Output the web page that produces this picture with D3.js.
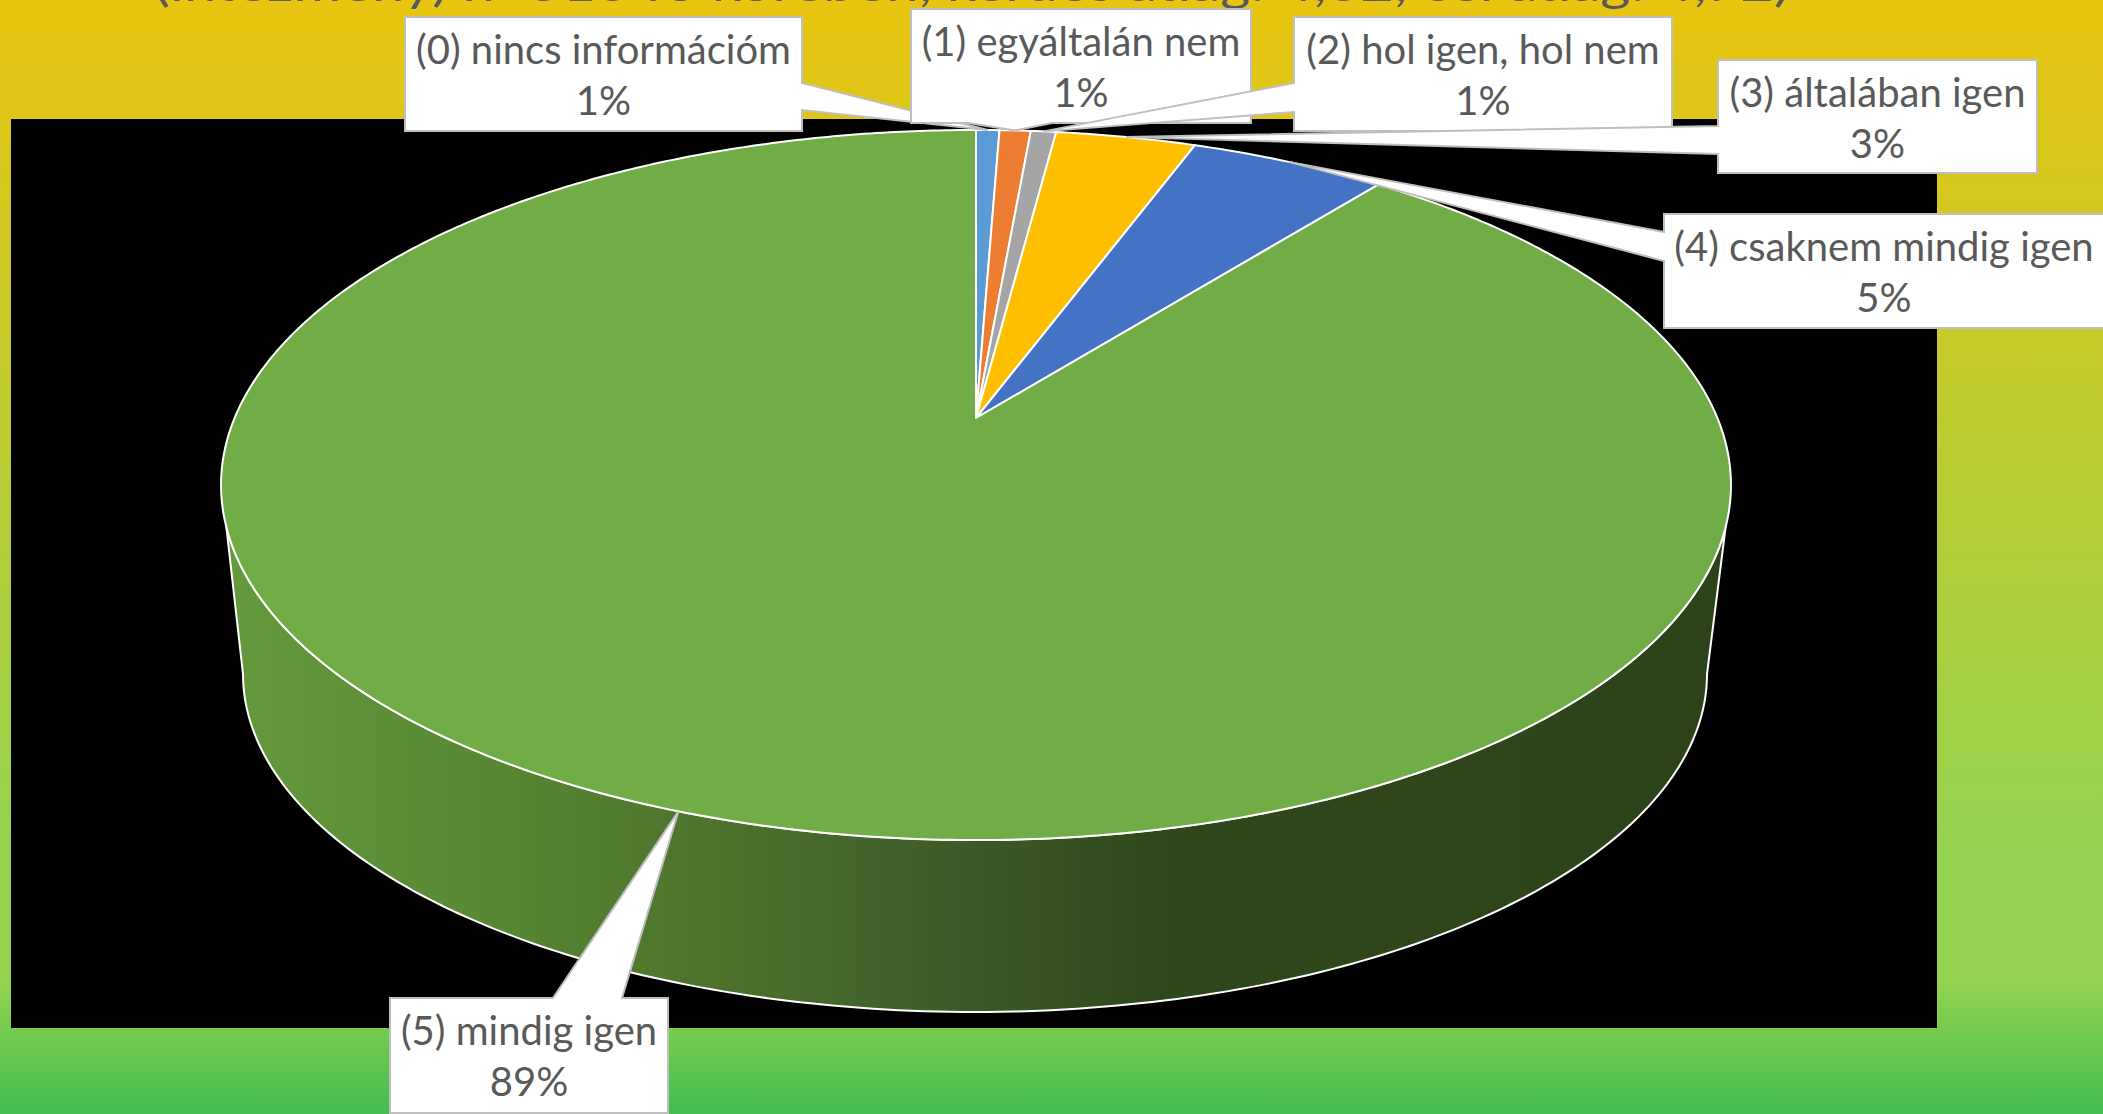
<!DOCTYPE html>
<html>
<head>
<meta charset="utf-8">
<style>html,body{margin:0;padding:0;overflow:hidden;background:#fff}svg{display:block}text{font-family:Lato,"Open Sans",sans-serif}</style>
<script src="https://cdn.jsdelivr.net/npm/d3@7/dist/d3.min.js"></script>
</head>
<body>
<svg id="chart" width="2103" height="1114"></svg>
<script>
const titleText = "(intézmény) n=513 fő körében, kérdés átlag: 4,82, cél átlag: 4,72)";
const categories = ["(0) nincs információm","(1) egyáltalán nem","(2) hol igen, hol nem","(3) általában igen","(4) csaknem mindig igen","(5) mindig igen"];
const values = [0.6,0.8,0.65,3.6,5.05,89.3];
const percentLabels = ["1%","1%","1%","3%","5%","89%"];
const sliceColors = ["#5b9bd5","#ed7d31","#a5a5a5","#fdbf00","#4472c4","#70ad47"];

// layout of the callouts: box edges, side the pointer leaves from, two pointer base points along that side
const calloutLayout = [
  {x0:405,x1:802,y0:17,y1:131,side:"right",a:83,b:110},
  {x0:911,x1:1251,y0:9,y1:123,side:"bottom",a:968,b:1052},
  {x0:1294,x1:1672,y0:17,y1:131,side:"left",a:83,b:112},
  {x0:1718,x1:2037,y0:60,y1:173,side:"left",a:126,b:154},
  {x0:1664,x1:2106,y0:214,y1:328,side:"left",a:232,b:261},
  {x0:390,x1:668,y0:998,y1:1113,side:"top",a:553,b:622}
];

const W = 2103, H = 1114;
const svg = d3.select("#chart");
const defs = svg.append("defs");

const bg = defs.append("linearGradient").attr("id","bg").attr("x1",0).attr("x2",0).attr("y1",0).attr("y2",1);
[[0,"#e8c40f"],[0.76,"#94d350"],[0.88,"#94d350"],[1,"#42bd4f"]].forEach(s=>bg.append("stop").attr("offset",s[0]).attr("stop-color",s[1]));
svg.append("rect").attr("width",W).attr("height",H).attr("fill","url(#bg)");
svg.append("rect").attr("x",11).attr("y",119).attr("width",1926).attr("height",909).attr("fill","#000");

// title, cut by the top edge
svg.append("text").attr("x",972).attr("y",1).attr("text-anchor","middle")
  .attr("font-size",47).attr("fill","#595959")
  .attr("textLength",1635).attr("lengthAdjust","spacingAndGlyphs").text(titleText);

// perspective projection of the pie disc
const cx = 976, cy = 418, persp = 0.1887, kx = 741.4, ky = 342.4;
const project = (theta) => {
  const u = Math.sin(theta), v = Math.cos(theta), w = 1 + persp*v;
  return [cx + kx*u/w, cy - ky*v/w];
};
const line = d3.line();
const pie = d3.pie().sort(null).value(d=>d)(values);
const mids = pie.map(p=>(p.startAngle+p.endAngle)/2);

// side wall of the green slice
const wallGrad = defs.append("linearGradient").attr("id","wall").attr("gradientUnits","userSpaceOnUse")
  .attr("x1",225).attr("x2",1728).attr("y1",0).attr("y2",0);
[[0,"#649a3d"],[0.18,"#578734"],[0.30,"#4f762d"],[0.45,"#40612a"],[0.62,"#2f481b"],[1,"#2c4319"]]
  .forEach(s=>wallGrad.append("stop").attr("offset",s[0]).attr("stop-color",s[1]));

const thetaGrid = d3.range(0,720).map(i=>i/720*2*Math.PI);
const rimLower = thetaGrid.map(project).filter(p=>p[1]>=525).sort((a,b)=>a[0]-b[0]);
const ellipse = d3.range(0,181).map(i=>{
  const t = i/180*Math.PI;
  return [975 - 732*Math.cos(t), 674 + 338*Math.sin(t)];
});
const wallPts = [...rimLower, ...ellipse.slice().reverse()];
svg.append("path").attr("d",line(wallPts)+"Z").attr("fill","url(#wall)")
  .attr("stroke","#fff").attr("stroke-width",2).attr("stroke-linejoin","round");

// top face slices
svg.append("g").selectAll("path").data(pie).join("path")
  .attr("d",d=>{
    const n = Math.max(2,Math.ceil((d.endAngle-d.startAngle)/0.01));
    const arc = d3.range(0,n+1).map(i=>project(d.startAngle+(d.endAngle-d.startAngle)*i/n));
    return line([[cx,cy],...arc])+"Z";
  })
  .attr("fill",(d,i)=>sliceColors[i])
  .attr("stroke","#fff").attr("stroke-width",2).attr("stroke-linejoin","round");

// callouts
const calloutPath = (b,tip)=>{
  const pts = [[b.x0,b.y0]];
  if(b.side==="top") pts.push([b.a,b.y0],tip,[b.b,b.y0]);
  pts.push([b.x1,b.y0]);
  if(b.side==="right") pts.push([b.x1,b.a],tip,[b.x1,b.b]);
  pts.push([b.x1,b.y1]);
  if(b.side==="bottom") pts.push([b.b,b.y1],tip,[b.a,b.y1]);
  pts.push([b.x0,b.y1]);
  if(b.side==="left") pts.push([b.x0,b.b],tip,[b.x0,b.a]);
  return line(pts)+"Z";
};
const callouts = svg.append("g").selectAll("g").data(categories).join("g");
callouts.append("path")
  .attr("d",(d,i)=>calloutPath(calloutLayout[i],project(mids[i])))
  .attr("fill","#fff").attr("stroke","#bfbfbf").attr("stroke-width",2);
const tx = (i)=>{const b=calloutLayout[i];return (b.x0+Math.min(b.x1,2104))/2;};
callouts.append("text").attr("x",(d,i)=>tx(i)).attr("y",(d,i)=>calloutLayout[i].y0+47)
  .attr("text-anchor","middle").attr("font-size",40).attr("fill","#595959").text(d=>d);
callouts.append("text").attr("x",(d,i)=>tx(i)).attr("y",(d,i)=>calloutLayout[i].y0+98)
  .attr("text-anchor","middle").attr("font-size",40).attr("fill","#595959").text((d,i)=>percentLabels[i]);
</script>
</body>
</html>
